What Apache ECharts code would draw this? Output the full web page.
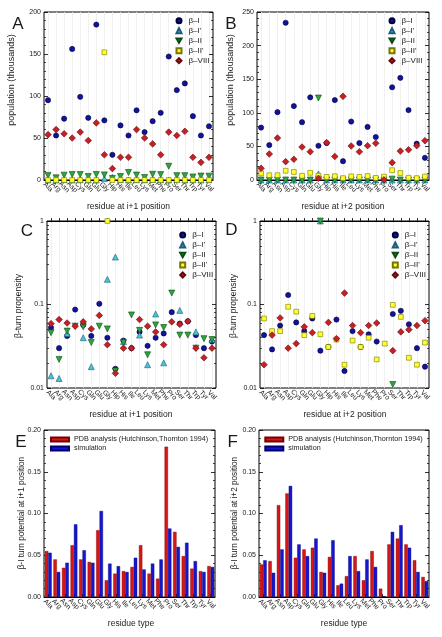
<!DOCTYPE html>
<html><head><meta charset="utf-8">
<script src="https://cdn.jsdelivr.net/npm/echarts@6/dist/echarts.min.js"></script>
<style>html,body{margin:0;padding:0;background:#fff}#c{width:442px;height:637px}</style>
</head><body><div id="c"></div>
<script>
// ---------- categories ----------
const residues21 = ['Ala','Arg','Asn','Asp','Cys','Gln','Glu','Gly','Hip','His','Ile','Leu','Lys','Met','Phe','Pro','Ser','Thr','Trp','Tyr','Val'];
const residues20 = ['Ala','Arg','Asn','Asp','Cys','Gln','Glu','Gly','His','Ile','Leu','Lys','Met','Phe','Pro','Ser','Thr','Trp','Tyr','Val'];
const turnNames = ['β–I', "β–I'", 'β–II', "β–II'", 'β–VIII'];
const barNames = ['PDB analysis (Hutchinson,Thornton 1994)', 'simulation'];

// ---------- A: population at i+1 (thousands) ----------
const popA_I    = [95, 53, 73, 156, 99, 74, 185, 71, 30, 65, 53, 83, 57, 70, 80, 147, 107, 115, 76, 53, 64];
const popA_I1   = [0.1, 0.1, 0.4, 0, 0.3, 0.1, 0, 1.6, 3.0, 0.3, 0, 0.3, 0.2, 0.6, 0.2, 0, 0.7, 0, 0.4, 0, 0.3];
const popA_II   = [5.5, 2.6, 5.8, 6.6, 6.5, 4.2, 6.6, 6.1, 1.9, 4.2, 9.0, 5.9, 3.0, 6.8, 6.4, 16.4, 5.2, 5.2, 3.6, 4.7, 4.6];
const popA_II1  = [0, 0, 0, 0, 0, 0, 0, 152, 0, 0, 0, 0, 0, 0, 0, 0, 0, 0, 0, 0, 0];
const popA_VIII = [54, 60, 55, 50, 57, 47, 68, 30, 13.6, 27, 27, 60, 50, 43, 30, 57, 53, 58, 27, 21, 27];

// ---------- B: population at i+2 (thousands) ----------
const popB_I    = [78, 52, 101, 234, 110, 86, 123, 51, 55, 119, 28, 87, 55, 79, 64, 1.8, 138, 152, 104, 54, 33];
const popB_I1   = [0, 0, 0, 0, 0, 0, 0, 9, 0, 0, 0, 0, 0, 0, 0, 0, 0, 0, 0, 0, 0];
const popB_II   = [0, 0, 0, 0, 0, 0, 0, 122, 0, 0, 0, 0, 0, 0, 0, 0, 1.3, 0, 0, 0, 0];
const popB_II1  = [10, 7.1, 7.1, 13.8, 12, 6.3, 10.7, 6.5, 4.6, 5.6, 2.8, 5.4, 4.6, 5.9, 3.2, 5, 14.6, 10.4, 3.4, 2.8, 5.1];
const popB_VIII = [17.4, 38.7, 62.5, 27.3, 30.8, 49, 42, 2.5, 55.6, 35, 124.5, 50.6, 42, 51, 54.6, 0.3, 25.8, 43, 45, 51, 58.5];

// ---------- C: propensity at i+1 (log) ----------
const propC_I    = [0.053, 0.030, 0.042, 0.087, 0.057, 0.042, 0.102, 0.040, 0.017, 0.037, 0.030, 0.047, 0.032, 0.040, 0.045, 0.081, 0.059, 0.063, 0.043, 0.030, 0.036];
const propC_I1   = [0.014, 0.013, 0.045, null, 0.040, 0.018, null, 0.20, 0.37, 0.036, null, 0.043, 0.019, 0.077, 0.020, null, 0.085, null, 0.047, null, 0.038];
const propC_II   = [0.046, 0.022, 0.048, 0.055, 0.054, 0.035, 0.055, 0.051, 0.016, 0.035, 0.075, 0.049, 0.025, 0.057, 0.053, 0.137, 0.043, 0.043, 0.030, 0.039, 0.038];
const propC_II1  = [null, null, null, null, null, null, null, 1.0, null, null, null, null, null, null, null, null, null, null, null, null, null];
const propC_VIII = [0.059, 0.066, 0.060, 0.055, 0.062, 0.051, 0.074, 0.033, 0.015, 0.030, 0.030, 0.066, 0.055, 0.047, 0.033, 0.062, 0.058, 0.063, 0.030, 0.023, 0.030];

// ---------- D: propensity at i+2 (log) ----------
const propD_I    = [0.043, 0.029, 0.056, 0.130, 0.061, 0.048, 0.068, 0.028, 0.031, 0.066, 0.016, 0.048, 0.031, 0.044, 0.036, null, 0.077, 0.084, 0.058, 0.030, 0.018];
const propD_I1   = [null, null, null, null, null, null, null, 1.0, null, null, null, null, null, null, null, null, null, null, null, null, null];
const propD_II   = [null, null, null, null, null, null, null, 1.0, null, null, null, null, null, null, null, null, 0.011, null, null, null, null];
const propD_II1  = [0.068, 0.048, 0.048, 0.094, 0.082, 0.043, 0.073, 0.044, 0.031, 0.038, 0.019, 0.037, 0.031, 0.040, 0.022, 0.034, 0.099, 0.071, 0.023, 0.019, 0.035];
const propD_VIII = [0.019, 0.043, 0.069, 0.030, 0.034, 0.054, 0.046, null, 0.061, 0.039, 0.137, 0.056, 0.046, 0.056, 0.060, null, 0.028, 0.047, 0.050, 0.056, 0.064];

// ---------- E / F: beta-I turn potentials ----------
const potE_pdb = [0.055, 0.045, 0.035, 0.062, 0.045, 0.042, 0.080, 0.020, 0.028, 0.031, 0.036, 0.062, 0.028, 0.022, 0.180, 0.078, 0.049, 0.034, 0.031, 0.037];
const potE_sim = [0.053, 0.030, 0.041, 0.087, 0.056, 0.041, 0.103, 0.040, 0.037, 0.030, 0.047, 0.033, 0.040, 0.045, 0.082, 0.060, 0.065, 0.043, 0.030, 0.036];
const potF_pdb = [0.039, 0.043, 0.110, 0.124, 0.047, 0.057, 0.059, 0.030, 0.048, 0.014, 0.025, 0.049, 0.020, 0.055, 0.010, 0.063, 0.070, 0.063, 0.044, 0.024];
const potF_sim = [0.044, 0.029, 0.057, 0.133, 0.063, 0.049, 0.070, 0.029, 0.068, 0.016, 0.049, 0.031, 0.045, 0.036, 0.001, 0.078, 0.086, 0.059, 0.030, 0.019];

// ---------- build ----------
const FF = '"Liberation Sans", Arial, Helvetica, sans-serif';
const TXT = '#1a1a1a';
const grids = [
  {left: 44,  top: 12,  width: 169, height: 168},
  {left: 257, top: 12,  width: 172, height: 168},
  {left: 47,  top: 221, width: 169, height: 167},
  {left: 260, top: 221, width: 169, height: 167},
  {left: 44,  top: 430, width: 171, height: 167},
  {left: 259, top: 430, width: 170, height: 167}
].map(g => Object.assign({show: true, borderColor: '#000', borderWidth: 1, backgroundColor: 'transparent', containLabel: false}, g));

const xAxes = grids.map((g, gi) => ({
  type: 'category', gridIndex: gi, data: gi < 4 ? residues21 : residues20, boundaryGap: true,
  axisLine: {show: true, lineStyle: {color: '#000', width: 1}},
  axisTick: {show: true, inside: true, alignWithLabel: true, length: 3, lineStyle: {color: '#000', width: 0.8}},
  axisLabel: {interval: 0, rotate: -45, fontSize: 7, color: TXT, fontFamily: FF, margin: 7, align: 'center', verticalAlign: 'middle'},
  splitLine: {show: gi < 4, alignWithLabel: true, lineStyle: {color: '#ececec', width: 0.8}}
}));

const yAxes = [];
const yMain = [];
function linAxis(gi, max, interval, fmt) {
  const base = {type: 'value', gridIndex: gi, min: 0, max: max, interval: interval,
    axisLine: {show: false}, splitLine: {show: false},
    axisTick: {show: true, inside: true, length: 4, lineStyle: {color: '#000', width: 0.8}},
    minorTick: {show: true, splitNumber: 5, length: 2, lineStyle: {color: '#000', width: 0.7}}};
  yMain[gi] = yAxes.length;
  yAxes.push(Object.assign({}, base, {position: 'left',
    axisLabel: {fontSize: 7, color: TXT, fontFamily: FF, margin: 3, formatter: fmt}}));
  yAxes.push(Object.assign({}, base, {position: 'right', axisLabel: {show: false}}));
}
const minorLog = [];
[-2, -1].forEach(d => { for (let k = 2; k <= 9; k++) minorLog.push(d + Math.log10(k)); });
function logAxis(gi) {
  const base = {type: 'log', logBase: 10, gridIndex: gi, min: 0.01, max: 1,
    axisLine: {show: false}, splitLine: {show: false},
    axisTick: {show: true, inside: true, length: 4, lineStyle: {color: '#000', width: 0.8}}};
  yMain[gi] = yAxes.length;
  yAxes.push(Object.assign({}, base, {position: 'left',
    axisLabel: {fontSize: 7, color: TXT, fontFamily: FF, margin: 3, formatter: v => String(+(+v).toPrecision(3))}}));
  yAxes.push(Object.assign({}, base, {position: 'right', axisLabel: {show: false}}));
  ['left', 'right'].forEach(p => yAxes.push({type: 'value', gridIndex: gi, position: p, min: -2, max: 0, interval: 1,
    axisLine: {show: false}, splitLine: {show: false}, axisLabel: {show: false},
    axisTick: {show: true, inside: true, length: 2, customValues: minorLog, lineStyle: {color: '#000', width: 0.7}}}));
}
linAxis(0, 200, 50);
linAxis(1, 250, 50);
logAxis(2);
logAxis(3);
linAxis(4, 0.2, 0.05, v => v.toFixed(2));
linAxis(5, 0.2, 0.05, v => v.toFixed(2));

const turnStyles = [
  {symbol: 'circle', size: 5.2, color: '#12129c', border: '#00003c'},
  {symbol: 'triangle', size: 6, color: '#46c4d0', border: '#1c5c7c'},
  {symbol: 'path://M0,0L10,0L5,8.66Z', size: 6, color: '#2fa53d', border: '#0c4a14'},
  {symbol: 'rect', size: 4.8, color: '#ffff2e', border: '#777700'},
  {symbol: 'diamond', size: 6.6, color: '#c61f26', border: '#650a0c'}
];
const panels = [
  [popA_I, popA_I1, popA_II, popA_II1, popA_VIII],
  [popB_I, popB_I1, popB_II, popB_II1, popB_VIII],
  [propC_I, propC_I1, propC_II, propC_II1, propC_VIII],
  [propD_I, propD_I1, propD_II, propD_II1, propD_VIII]
];
const series = [];
panels.forEach((sets, gi) => {
  sets.forEach((data, si) => {
    const st = turnStyles[si];
    series.push({type: 'scatter', name: turnNames[si], xAxisIndex: gi, yAxisIndex: yMain[gi],
      data: data.map(v => (v === null ? '-' : v)), symbol: st.symbol, symbolSize: st.size, clip: false,
      itemStyle: {color: st.color, borderColor: st.border, borderWidth: 0.6, opacity: 1},
      emphasis: {disabled: true}, z: 3 + si, animation: false});
  });
});
const barSets = [[potE_pdb, potE_sim], [potF_pdb, potF_sim]];
const barStyles = [{color: '#d81616', border: '#780000'}, {color: '#1616d0', border: '#000070'}];
barSets.forEach((sets, k) => {
  const gi = 4 + k;
  sets.forEach((data, si) => {
    series.push({type: 'bar', name: barNames[si], xAxisIndex: gi, yAxisIndex: yMain[gi], data: data,
      barWidth: 3.4, barGap: '0%',
      itemStyle: {color: barStyles[si].color, borderColor: barStyles[si].border, borderWidth: 0.4},
      emphasis: {disabled: true}, animation: false});
  });
});

const legTurn = (left, top) => ({orient: 'vertical', left: left, top: top, itemWidth: 5, itemHeight: 5, itemGap: 0,
  padding: 0, selectedMode: false, data: turnNames,
  textStyle: {fontSize: 8, fontFamily: FF, color: TXT, lineHeight: 10, padding: [0, 0, 0, 2]}});
const legBar = (left, top) => ({orient: 'vertical', left: left, top: top, itemWidth: 18, itemHeight: 4, itemGap: 0,
  padding: 0, selectedMode: false, icon: 'rect', data: barNames,
  textStyle: {fontSize: 7.2, fontFamily: FF, color: TXT, lineHeight: 9}});

const T = (x, y, text, size, rot) => ({type: 'text', x: x, y: y, rotation: rot || 0, silent: true,
  style: {text: text, fontSize: size, fontFamily: FF, fill: TXT, align: 'center', verticalAlign: 'middle'}});
const R = Math.PI / 2;
const graphics = [
  T(18, 24, 'A', 17), T(231, 24, 'B', 17), T(27, 231, 'C', 17), T(231.5, 230, 'D', 17), T(21, 442, 'E', 17), T(232.7, 442, 'F', 17),
  T(12, 80, 'population (thousands)', 9, R), T(231, 80, 'population (thousands)', 9, R),
  T(18.3, 306, 'β-turn propensity', 8.5, R), T(233.7, 306, 'β-turn propensity', 8.5, R),
  T(21.7, 513, 'β-I turn potential at i+1 position', 8.2, R), T(234.3, 513, 'β-I turn potential at i+2 position', 8.2, R),
  T(128.5, 206.7, 'residue at i+1 position', 8.5), T(343, 206.7, 'residue at i+2 position', 8.5),
  T(131, 415, 'residue at i+1 position', 8.5), T(345, 415, 'residue at i+2 position', 8.5),
  T(131, 624, 'residue type', 8.5), T(344, 624, 'residue type', 8.5)
];

const chart = echarts.init(document.getElementById('c'), null, {renderer: 'canvas'});
chart.setOption({
  backgroundColor: '#fff', animation: false,
  grid: grids, xAxis: xAxes, yAxis: yAxes, series: series,
  legend: [legTurn(175.5, 15.7), legTurn(388.5, 15.7), legTurn(179.2, 230), legTurn(391.8, 230), legBar(50, 435), legBar(264.3, 435)],
  graphic: graphics
});
</script></body></html>
